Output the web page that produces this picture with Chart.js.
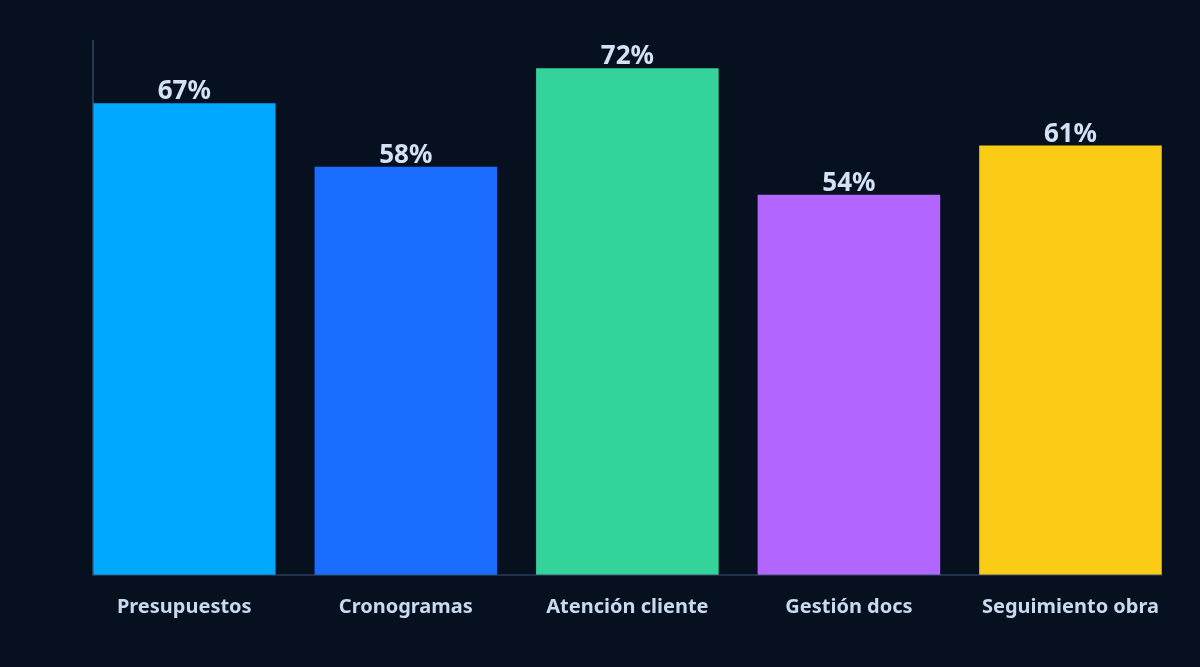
<!DOCTYPE html>
<html>
<head>
<meta charset="utf-8">
<script src="https://cdn.jsdelivr.net/npm/chart.js@4/dist/chart.umd.min.js"></script>
<style>
html,body{margin:0;padding:0;background:#07101f;}
#wrap{width:1200px;height:667px;position:relative;}
</style>
</head>
<body>
<div id="wrap"><canvas id="c"></canvas></div>
<script>
const categories = ["Presupuestos", "Cronogramas", "Atención cliente", "Gestión docs", "Seguimiento obra"];
const values = [67, 58, 72, 54, 61];
const barColors = ["#00a8ff", "#1a6dff", "#34d399", "#b366ff", "#facc15"];
const yMax = 76;

const valueLabels = {
  id: 'valueLabels',
  afterDatasetsDraw(chart) {
    const ctx = chart.ctx;
    const meta = chart.getDatasetMeta(0);
    ctx.save();
    ctx.font = 'bold 26px "Noto Sans", "Open Sans", sans-serif';
    ctx.fillStyle = '#d3e2f7';
    ctx.textAlign = 'center';
    ctx.textBaseline = 'alphabetic';
    meta.data.forEach((bar, i) => {
      ctx.fillText(values[i] + '%', bar.x, bar.y - 4);
    });
    ctx.restore();
  }
};

const axisLines = {
  id: 'axisLines',
  afterDatasetsDraw(chart) {
    const ctx = chart.ctx;
    const meta = chart.getDatasetMeta(0);
    const first = meta.data[0], last = meta.data[meta.data.length - 1];
    const x0 = first.x - first.width / 2;
    const x1 = last.x + last.width / 2;
    const area = chart.chartArea;
    ctx.save();
    ctx.strokeStyle = '#3b5475';
    ctx.lineWidth = 1.2;
    ctx.beginPath();
    ctx.moveTo(x0, area.top);
    ctx.lineTo(x0, area.bottom);
    ctx.lineTo(x1, area.bottom);
    ctx.stroke();
    ctx.restore();
  }
};

new Chart(document.getElementById('c'), {
  type: 'bar',
  data: {
    labels: categories,
    datasets: [{
      data: values,
      backgroundColor: barColors,
      borderWidth: 0,
      barPercentage: 0.824,
      categoryPercentage: 1.0
    }]
  },
  options: {
    responsive: true,
    maintainAspectRatio: false,
    animation: false,
    layout: { padding: { left: 73.5, right: 18.75, top: 40, bottom: 36 } },
    plugins: { legend: { display: false }, tooltip: { enabled: false } },
    scales: {
      x: {
        grid: { display: false },
        border: { display: false },
        ticks: {
          color: '#c9d9f0',
          padding: 12,
          maxRotation: 0,
          autoSkip: false,
          font: { family: '"Noto Sans", "Open Sans", sans-serif', size: 20, weight: 'bold' }
        }
      },
      y: {
        display: false,
        min: 0,
        max: yMax
      }
    }
  },
  plugins: [valueLabels, axisLines]
});
</script>
</body>
</html>
